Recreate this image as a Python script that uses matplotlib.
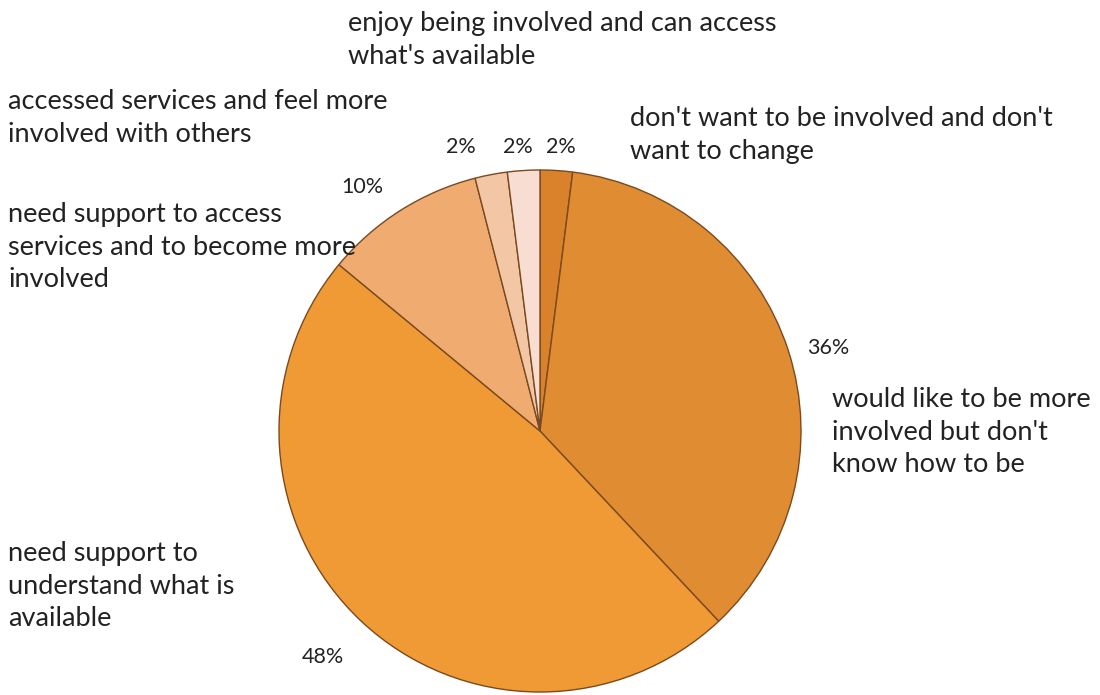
import matplotlib.pyplot as plt

plt.rcParams['font.family'] = ['Lato', 'DejaVu Sans']

# slices, clockwise from twelve o'clock
labels = [
    "don't want to be involved and don't\nwant to change",
    "would like to be more\ninvolved but don't\nknow how to be",
    "need support to\nunderstand what is\navailable",
    "need support to access\nservices and to become more\ninvolved",
    "accessed services and feel more\ninvolved with others",
    "enjoy being involved and can access\nwhat's available",
]
values = [2, 36, 48, 10, 2, 2]
colors = ['#d9812b', '#e08c33', '#ef9a35', '#efab70', '#f3c6a6', '#f8ddd2']

# where the category names and percentages sit (pixels from top-left)
name_pos = [(630, 106), (832, 387), (8, 541), (8, 202), (8, 89), (348, 11)]
pct_pos = [(561, 147), (828, 348), (323, 657), (362, 187), (461, 147), (518, 147)]

W, H = 1100, 695
fig = plt.figure(figsize=(W / 100, H / 100), dpi=100)
ax = fig.add_axes([0, 0, 1, 1])

ax.pie(values, colors=colors, startangle=90, counterclock=False,
       center=(540, H - 431), radius=261,
       wedgeprops=dict(edgecolor='#7a4a1e', linewidth=1.0))
ax.set_xlim(0, W)
ax.set_ylim(0, H)
ax.set_aspect('equal')
ax.axis('off')

for lab, (x, y) in zip(labels, name_pos):
    ax.text(x, H - y, lab, ha='left', va='top', fontsize=19.5,
            color='#222222', linespacing=1.38)

for v, (x, y) in zip(values, pct_pos):
    ax.text(x, H - y, f"{v}%", ha='center', va='center', fontsize=15.5,
            color='#222222')

fig.savefig('out.png', dpi=100, facecolor='white')
